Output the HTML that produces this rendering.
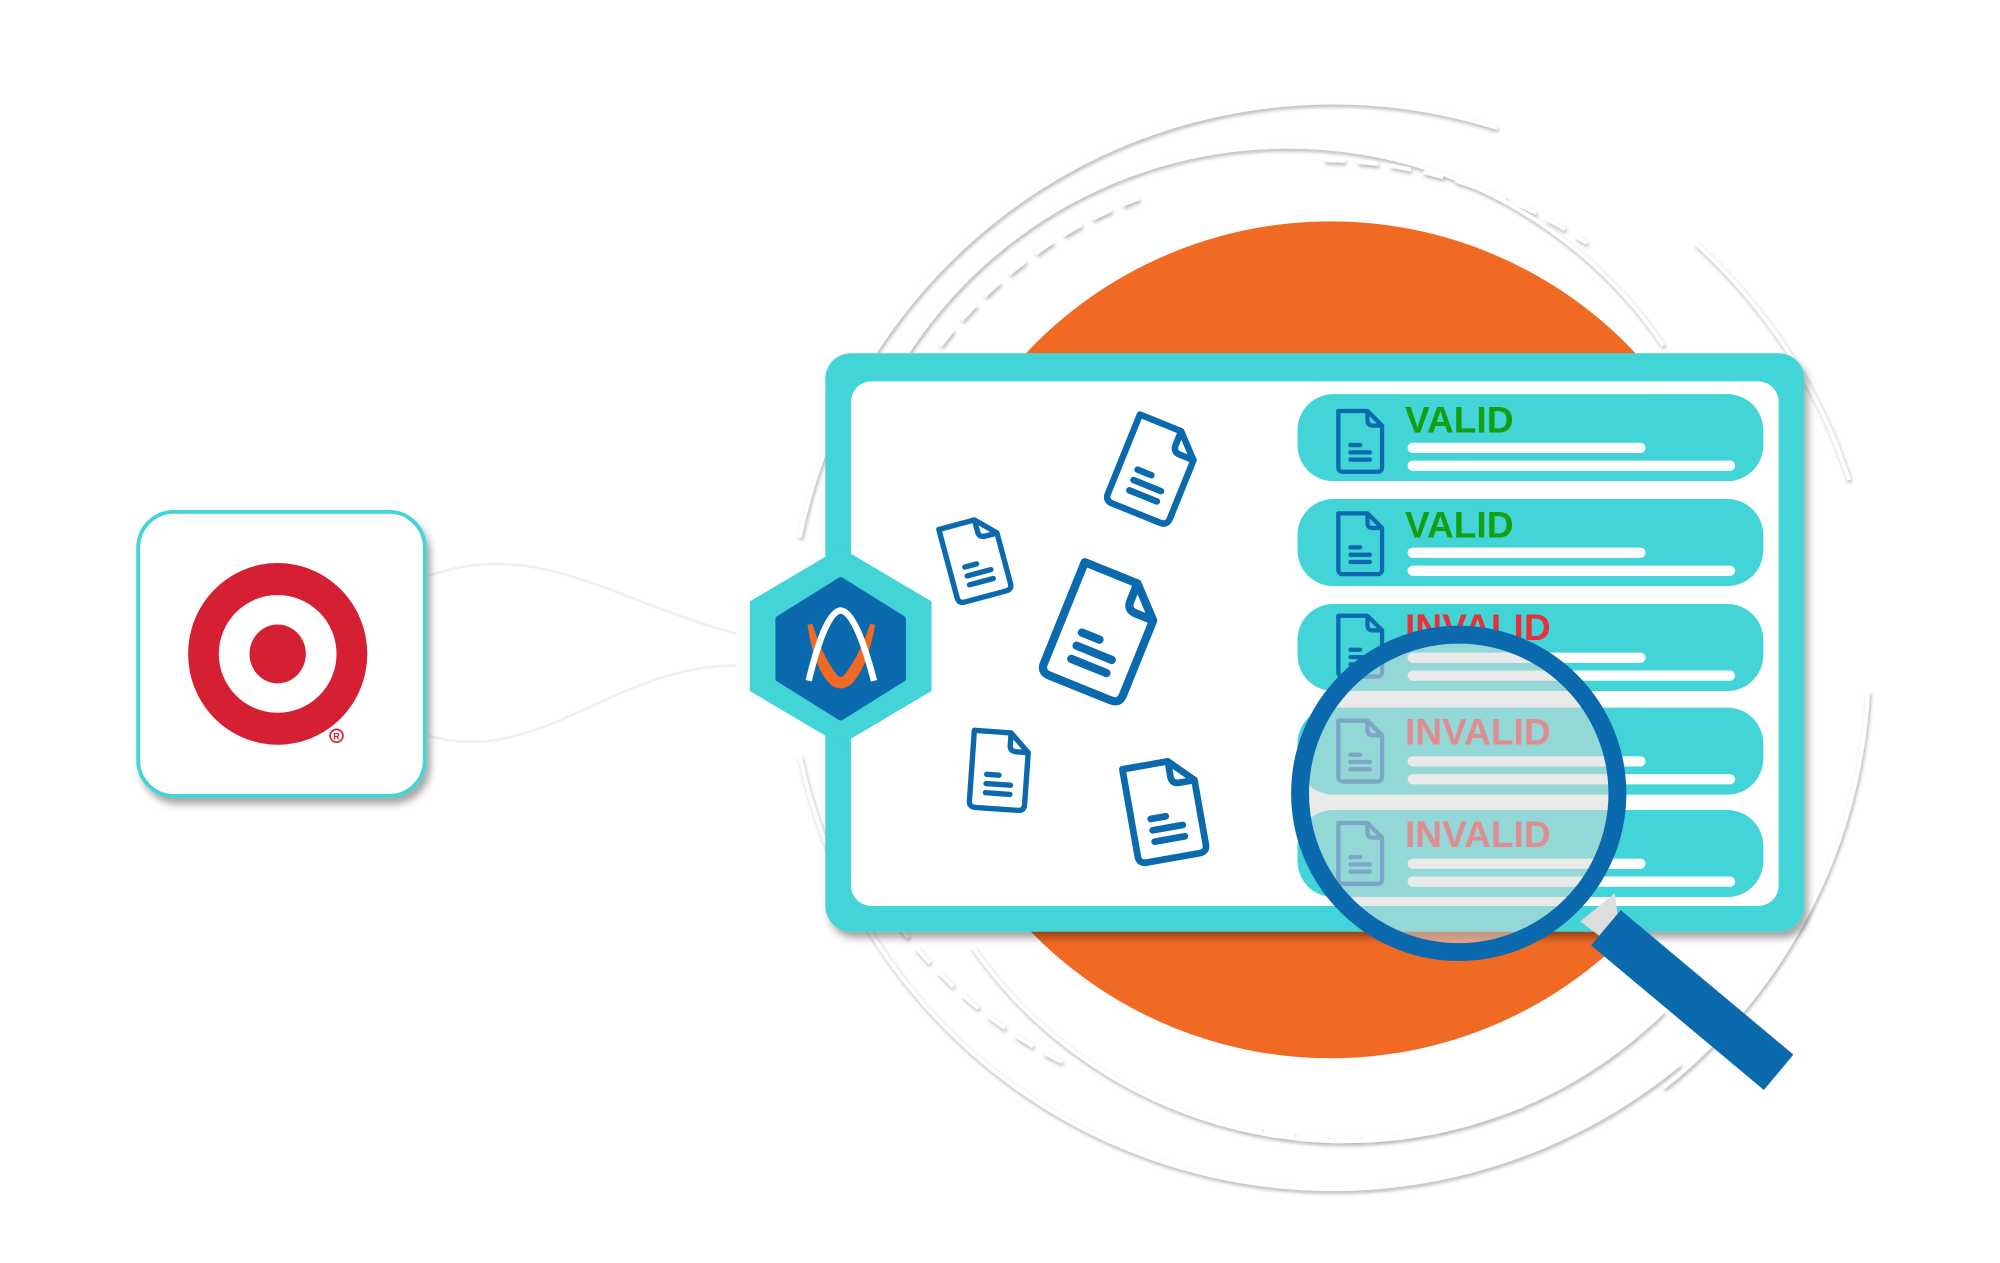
<!DOCTYPE html>
<html><head><meta charset="utf-8"><style>
html,body{margin:0;padding:0;background:#fff;width:2000px;height:1263px;overflow:hidden}
svg{display:block}
text{font-family:"Liberation Sans",sans-serif;font-weight:bold}
</style></head><body>
<svg width="2000" height="1263" viewBox="0 0 1563 987" xmlns="http://www.w3.org/2000/svg">
<defs>
<filter id="sh" x="-10%" y="-10%" width="130%" height="130%"><feDropShadow dx="3" dy="5" stdDeviation="3" flood-color="#000" flood-opacity="0.35"/></filter>
<filter id="ash" x="-10%" y="-10%" width="120%" height="120%"><feDropShadow dx="1" dy="2" stdDeviation="1.5" flood-color="#000" flood-opacity="0.3"/></filter>
<g id="doc">
<path d="M-18,-24 H6 L18,-12 V22 Q18,26 14,26 H-14 Q-18,26 -18,22 Z" fill="none" stroke="#0a6aad" stroke-width="3.5" stroke-linejoin="round"/>
<path d="M6,-24 V-16 Q6,-12 10,-12 H18" fill="none" stroke="#0a6aad" stroke-width="3.5"/>
<path d="M-8,4 H0 M-8,10 H8 M-8,16 H8" stroke="#0a6aad" stroke-width="3.5" stroke-linecap="round"/>
</g>
<clipPath id="lens"><circle cx="1140" cy="620" r="118"/></clipPath>
</defs>

<!-- decorative arcs -->
<g fill="none" stroke="#fff" filter="url(#ash)" stroke-width="3">
<path d="M625,420 A425,425 0 0 1 1170,100"/>
<path d="M1325,190 A425,425 0 0 1 1445,375"/>
<path d="M625,590 A425,425 0 0 0 1313,831"/>
<path d="M1460,540 A425,425 0 0 1 1300,850"/>
<path d="M680,330 A355,355 0 0 1 1300,270"/>
<path d="M735,270 A350,350 0 0 1 890,155" stroke-dasharray="16,10"/>
<path d="M1035,125 A380,380 0 0 1 1240,190" stroke-dasharray="16,10"/>
<path d="M700,720 A360,360 0 0 0 830,830" stroke-dasharray="16,10"/>
<path d="M970,880 A380,380 0 0 0 1200,860" stroke-dasharray="16,10"/>
<path d="M760,740 A355,355 0 0 0 1300,790"/>
</g>

<!-- orange circle -->
<circle cx="1040" cy="500" r="327" fill="#f06a24"/>

<!-- connector -->
<path d="M335,450 C420,420 480,470 575,495 M335,575 C420,600 480,520 575,520" fill="none" stroke="#f0f0f0" stroke-width="2"/>

<!-- target box -->
<rect x="108" y="400" width="224" height="222" rx="28" fill="#fff" stroke="#42d4d6" stroke-width="3" filter="url(#sh)"/>
<ellipse cx="217" cy="511" rx="70" ry="71" fill="#d51f33"/>
<ellipse cx="217" cy="511" rx="46" ry="46" fill="#fff"/>
<ellipse cx="217" cy="511" rx="22" ry="23" fill="#d51f33"/>
<circle cx="263" cy="575" r="5" fill="none" stroke="#d51f33" stroke-width="1.3"/>
<text x="263" y="578" font-size="7" fill="#d51f33" text-anchor="middle">R</text>

<!-- panel -->
<rect x="645" y="276" width="765" height="452" rx="20" fill="#42d4d6" filter="url(#sh)"/>
<rect x="665" y="298" width="725" height="410" rx="16" fill="#fff"/>

<!-- rows -->
<g>
<rect x="1014" y="308" width="364" height="68" rx="28" fill="#42d4d6"/>
<rect x="1014" y="390" width="364" height="68" rx="28" fill="#42d4d6"/>
<rect x="1014" y="472" width="364" height="68" rx="28" fill="#42d4d6"/>
<rect x="1014" y="553" width="364" height="68" rx="28" fill="#42d4d6"/>
<rect x="1014" y="633" width="364" height="68" rx="28" fill="#42d4d6"/>
</g>
<g fill="#fff">
<rect x="1100" y="346" width="186" height="8" rx="4"/><rect x="1100" y="360" width="256" height="8" rx="4"/>
<rect x="1100" y="428" width="186" height="8" rx="4"/><rect x="1100" y="442" width="256" height="8" rx="4"/>
<rect x="1100" y="510" width="186" height="8" rx="4"/><rect x="1100" y="524" width="256" height="8" rx="4"/>
<rect x="1100" y="591" width="186" height="8" rx="4"/><rect x="1100" y="605" width="256" height="8" rx="4"/>
<rect x="1100" y="671" width="186" height="8" rx="4"/><rect x="1100" y="685" width="256" height="8" rx="4"/>
</g>
<use href="#doc" transform="translate(1063,344) scale(0.95)"/>
<use href="#doc" transform="translate(1063,424) scale(0.95)"/>
<use href="#doc" transform="translate(1063,504) scale(0.95)"/>
<use href="#doc" transform="translate(1063,586) scale(0.95)"/>
<use href="#doc" transform="translate(1063,666) scale(0.95)"/>
<text x="1098" y="338" font-size="29" fill="#12a012">VALID</text>
<text x="1098" y="420" font-size="29" fill="#12a012">VALID</text>
<text x="1098" y="500" font-size="29" fill="#e8303a">INVALID</text>
<text x="1098" y="582" font-size="29" fill="#e8303a">INVALID</text>
<text x="1098" y="662" font-size="29" fill="#e8303a">INVALID</text>

<!-- scattered docs -->
<use href="#doc" transform="translate(902,366) rotate(22) scale(1.45)"/>
<use href="#doc" transform="translate(762,436) rotate(-15) scale(1.2)"/>
<use href="#doc" transform="translate(862,493) rotate(22) scale(1.85)"/>
<use href="#doc" transform="translate(781,601) rotate(4) scale(1.2)"/>
<use href="#doc" transform="translate(910,632) rotate(-10) scale(1.5)"/>

<!-- hexagon -->
<polygon points="657,428 728,470 728,540 657,582 586,540 586,470" fill="#42d4d6"/>
<polygon points="657,454 705,484 705,530 657,560 609,530 609,484" fill="#0a6aad" stroke="#0a6aad" stroke-width="6" stroke-linejoin="round"/>
<path d="M633,488 Q640,512 652,528 Q657,534 662,528 Q674,512 682,488 Q676,520 665,532 Q657,540 649,532 Q638,520 633,488 Z" fill="#f06a24" stroke="#f06a24" stroke-width="4"/>
<path d="M632,532 Q645,478 657,477 Q669,478 683,532" fill="none" stroke="#fff" stroke-width="5"/>
<path d="M645,503 Q657,496 670,503" fill="none" stroke="#0a6aad" stroke-width="5"/>

<!-- magnifier -->
<g clip-path="url(#lens)">
<rect x="1000" y="490" width="280" height="260" fill="#d8d8d8" fill-opacity="0.55"/>
</g>
<polygon points="1235,720 1262,698 1268,745" fill="#ddd"/>
<line x1="1255" y1="725" x2="1390" y2="838" stroke="#0a6aad" stroke-width="36"/>
<circle cx="1140" cy="620" r="124" fill="none" stroke="#0a6aad" stroke-width="14"/>
</svg>
</body></html>
